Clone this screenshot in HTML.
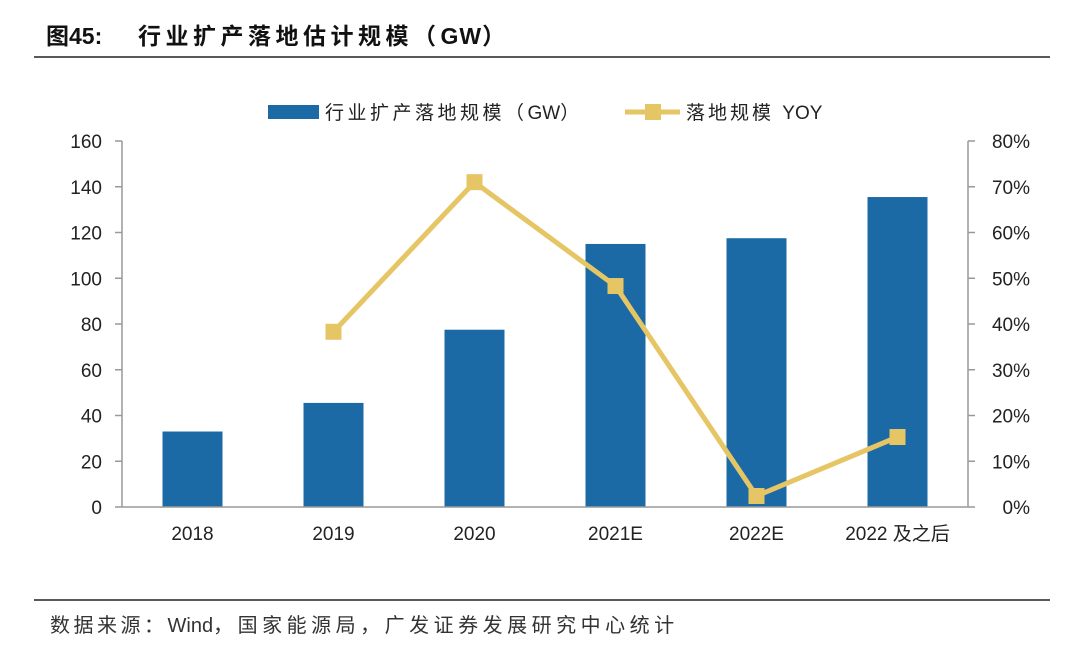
<!DOCTYPE html>
<html><head><meta charset="utf-8"><style>
body{margin:0;background:#fff;width:1080px;height:656px;overflow:hidden;font-family:"Liberation Sans","Noto Sans CJK SC",sans-serif;}
svg{position:absolute;left:0;top:0}
</style></head><body>
<svg width="1080" height="656">
<text y="44" font-size="23" font-weight="bold" fill="#111" font-family="Liberation Sans, Noto Sans CJK SC, sans-serif"><tspan x="46">图45:</tspan><tspan x="138" letter-spacing="4.5">行业扩产落地估计规模（</tspan><tspan letter-spacing="1">GW</tspan><tspan>）</tspan></text>
<line x1="34" y1="57" x2="1050" y2="57" stroke="#222" stroke-width="1.5"/>
<line x1="34" y1="600" x2="1050" y2="600" stroke="#222" stroke-width="1.5"/>
<text y="632" font-size="20" fill="#333" font-family="Liberation Sans, Noto Sans CJK SC, sans-serif"><tspan x="50" letter-spacing="3.5">数据来源：</tspan><tspan>Wind</tspan><tspan letter-spacing="4.5">，国家能源局，广发证券发展研究中心统计</tspan></text>
<g>
<rect x="268" y="105" width="51" height="14" fill="#1b6aa5"/>
<text x="325" y="119" font-size="19" fill="#222"><tspan letter-spacing="3.5">行业扩产落地规模（</tspan><tspan>GW</tspan><tspan>）</tspan></text>
<line x1="625" y1="112" x2="680" y2="112" stroke="#e6c565" stroke-width="5"/>
<rect x="645" y="104" width="16" height="16" fill="#e6c565"/>
<text x="686" y="119" font-size="19" fill="#222"><tspan letter-spacing="3">落地规模 </tspan><tspan>YOY</tspan></text>
</g>
<g id="plot"></g>
</svg>
<script>
const categories=["2018","2019","2020","2021E","2022E","2022 及之后"];
const capacity=[33,45.5,77.5,115,117.5,135.5];
const yoyCats=["2019","2020","2021E","2022E","2022 及之后"];
const yoy=[38.3,71,48.3,2.4,15.3];
const leftTicks=[0,20,40,60,80,100,120,140,160];
const rightTicks=[0,10,20,30,40,50,60,70,80];
const NS="http://www.w3.org/2000/svg";
const X0=122,X1=968,Y0=507,Y1=141;
const bw=(X1-X0)/categories.length;
const xc=i=>X0+bw*(i+0.5);
const yl=v=>Y0-(v/160)*(Y0-Y1);
const yr=v=>Y0-(v/80)*(Y0-Y1);
const g=document.getElementById('plot');
function mk(t,a){const e=document.createElementNS(NS,t);for(const k in a)e.setAttribute(k,a[k]);g.appendChild(e);return e;}
capacity.forEach((v,i)=>{
 const r=mk('rect',{x:xc(i)-30,y:yl(v),width:60,height:Y0-yl(v),fill:'#1b6aa5'});
 
 
});
let a=mk('line',{x1:X0,y1:Y1,x2:X0,y2:Y0,stroke:'#999','stroke-width':1.5});

a=mk('line',{x1:X1,y1:Y1,x2:X1,y2:Y0,stroke:'#999','stroke-width':1.5});

a=mk('line',{x1:X0,y1:Y0,x2:X1,y2:Y0,stroke:'#999','stroke-width':1.5});

leftTicks.forEach(v=>{
 mk('line',{x1:X0-7,y1:yl(v),x2:X0,y2:yl(v),stroke:'#999','stroke-width':1.5});
 const t=mk('text',{x:X0-20,y:yl(v)+7,'font-size':19,fill:'#222','text-anchor':'end'});t.textContent=v;
 
});
rightTicks.forEach(v=>{
 mk('line',{x1:X1,y1:yr(v),x2:X1+7,y2:yr(v),stroke:'#999','stroke-width':1.5});
 const t=mk('text',{x:X1+62,y:yr(v)+7,'font-size':19,fill:'#222','text-anchor':'end'});t.textContent=v+'%';
 
});
categories.forEach((c,i)=>{
 const t=mk('text',{x:xc(i),y:540,'font-size':19,fill:'#222','text-anchor':'middle'});t.textContent=c;
 
});
const pts=yoy.map((v,j)=>[xc(categories.indexOf(yoyCats[j])),yr(v)]);
const pl=mk('polyline',{points:pts.map(p=>p.join(',')).join(' '),fill:'none',stroke:'#e6c565','stroke-width':5,'stroke-linejoin':'miter'});

pts.forEach((p,j)=>{
 const m=mk('rect',{x:p[0]-8,y:p[1]-8,width:16,height:16,fill:'#e6c565'});
 
});
</script>
</body></html>
